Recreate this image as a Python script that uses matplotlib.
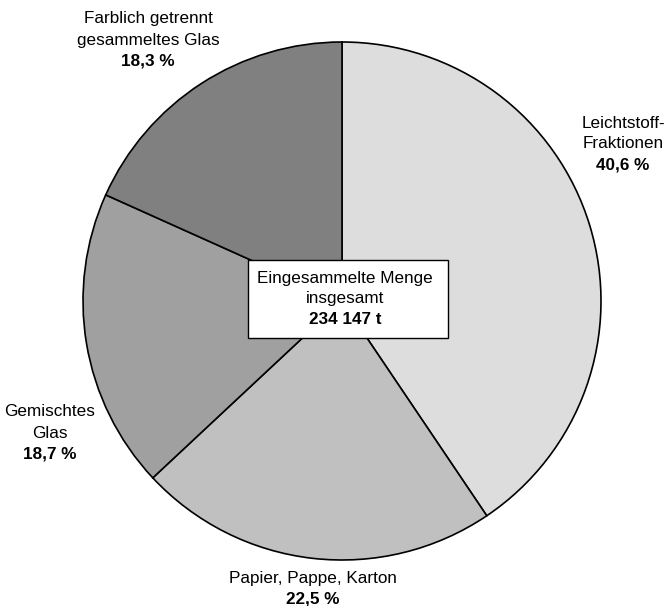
import matplotlib.pyplot as plt
from matplotlib.patches import Rectangle

plt.rcParams['font.family'] = ['Liberation Sans', 'DejaVu Sans']

# shares of collected amount, clockwise from top
names = ['Leichtstoff-\nFraktionen', 'Papier, Pappe, Karton',
         'Gemischtes\nGlas', 'Farblich getrennt\ngesammeltes Glas']
values = [40.6, 22.5, 18.7, 18.3]
value_labels = ['40,6 %', '22,5 %', '18,7 %', '18,3 %']
colors = ['#dddddd', '#c0c0c0', '#a0a0a0', '#808080']
total_label = '234 147 t'

W, H = 666, 606
fig = plt.figure(figsize=(W / 100, H / 100), dpi=100)
ax = fig.add_axes([0, 0, 1, 1])


# pixel positions from top-left -> axis coords
def py(y):
    return H - y


ax.pie(values, colors=colors, startangle=90, counterclock=False,
       center=(342, py(301)), radius=259, frame=True,
       wedgeprops=dict(edgecolor='black', linewidth=1.2))
ax.set_xlim(0, W)
ax.set_ylim(0, H)
ax.set_aspect('equal')
ax.axis('off')

fs = 12.3
step = 21
# label positions (pixels, centre of first line)
label_pos = [(623, 123), (313, 578), (50, 412), (148, 19)]
for name, vl, (x, y) in zip(names, value_labels, label_pos):
    lines = name.split('\n')
    for i, line in enumerate(lines):
        ax.text(x, py(y + step * i), line, ha='center', va='center', fontsize=fs)
    ax.text(x, py(y + step * len(lines)), vl, ha='center', va='center',
            fontsize=fs, fontweight='bold')

# centre box
ax.add_patch(Rectangle((248, py(338)), 200, 78, facecolor='white',
                       edgecolor='black', linewidth=1.0, zorder=5))
ax.text(345, py(278), 'Eingesammelte Menge', ha='center', va='center',
        fontsize=fs, zorder=6)
ax.text(345, py(299), 'insgesamt', ha='center', va='center', fontsize=fs, zorder=6)
ax.text(345, py(320), total_label, ha='center', va='center', fontsize=fs,
        fontweight='bold', zorder=6)

fig.savefig('out.png', dpi=100)
